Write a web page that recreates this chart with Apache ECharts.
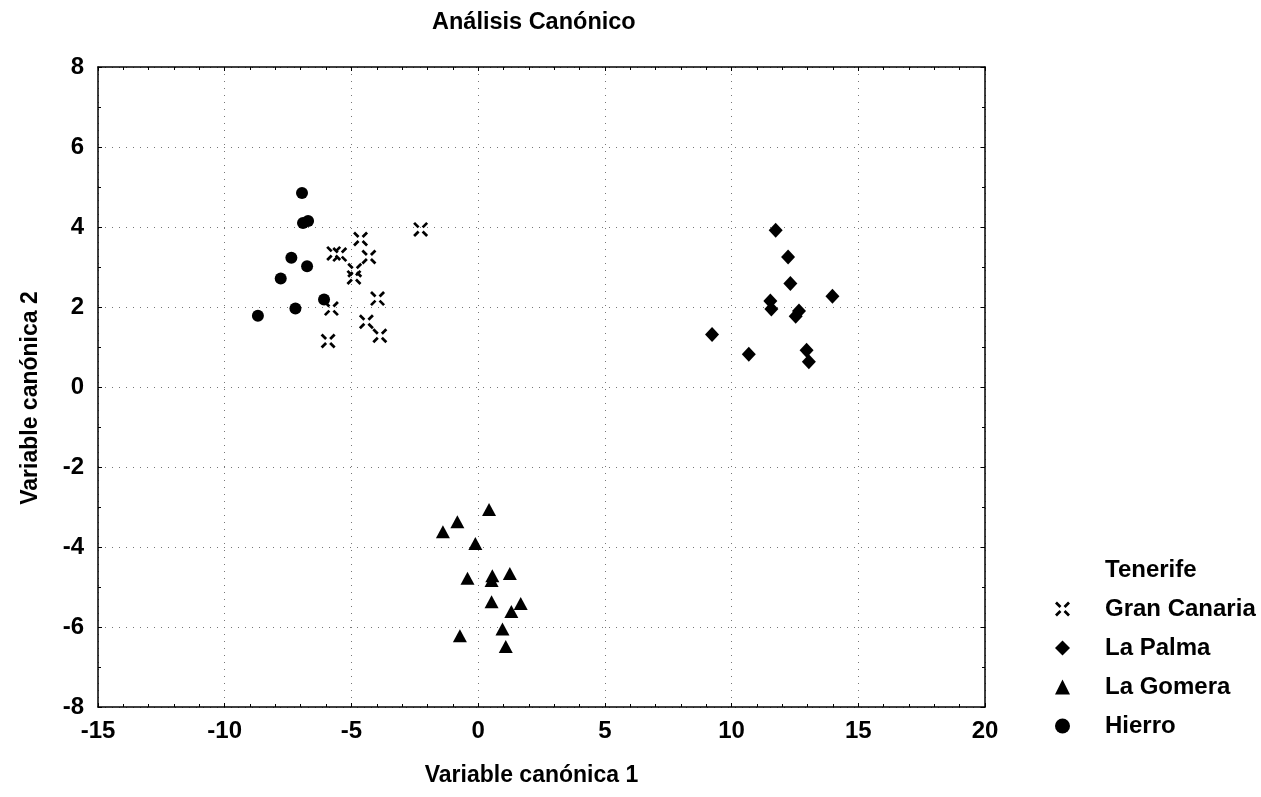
<!DOCTYPE html>
<html>
<head>
<meta charset="utf-8">
<script src="https://cdn.jsdelivr.net/npm/echarts@6/dist/echarts.min.js"></script>
<style>html,body{margin:0;padding:0;background:#fff}#c{width:1261px;height:797px}</style>
</head>
<body>
<div id="c"></div>
<script>
// Data
const seriesNames = ['Tenerife', 'Gran Canaria', 'La Palma', 'La Gomera', 'Hierro'];
const xTicks = [-15, -10, -5, 0, 5, 10, 15, 20];
const yTicks = [-8, -6, -4, -2, 0, 2, 4, 6, 8];

const tenerife = [];
const granCanaria = [
  [-2.27, 3.94], [-4.64, 3.70], [-5.70, 3.34], [-5.46, 3.31], [-4.31, 3.25],
  [-4.87, 2.92], [-4.90, 2.74], [-3.97, 2.21], [-5.79, 1.96], [-4.41, 1.63],
  [-3.88, 1.28], [-5.92, 1.15]
];
const laPalma = [
  [11.74, 3.92], [12.23, 3.25], [12.32, 2.59], [13.98, 2.27], [11.53, 2.15],
  [11.57, 1.95], [12.66, 1.90], [12.53, 1.77], [9.23, 1.31], [10.68, 0.82],
  [12.96, 0.92], [13.05, 0.63]
];
const laGomera = [
  [0.43, -3.06], [-0.82, -3.37], [-1.39, -3.62], [-0.11, -3.91], [-0.42, -4.78],
  [0.56, -4.72], [0.53, -4.84], [1.25, -4.66], [0.53, -5.37], [1.68, -5.41],
  [1.31, -5.61], [0.96, -6.05], [-0.72, -6.22], [1.09, -6.49]
];
const hierro = [
  [-6.95, 4.85], [-6.91, 4.10], [-6.71, 4.15], [-7.37, 3.23], [-6.75, 3.02],
  [-7.79, 2.71], [-6.08, 2.19], [-7.21, 1.96], [-8.69, 1.78]
];

const FONT = 'Liberation Sans';
const xSymbol = 'path://M0,1.3L1.3,0L4.3,3L3,4.3Z M8.7,0L10,1.3L7,4.3L5.7,3Z M0,8.7L3,5.7L4.3,7L1.3,10Z M10,8.7L8.7,10L5.7,7L7,5.7Z';
const solid = {color: '#000', opacity: 1};

const chart = echarts.init(document.getElementById('c'), null, {renderer: 'canvas'});

const baseX = {
  type: 'value', min: -15, max: 20, interval: 5,
  axisLine: {show: true, onZero: false, lineStyle: {color: '#000', width: 1.5}},
  axisTick: {show: true, inside: true, length: 4, lineStyle: {color: '#000'}},
  minorTick: {show: true, splitNumber: 5, length: 3, lineStyle: {color: '#000'}},
};
const baseY = {
  type: 'value', min: -8, max: 8, interval: 2,
  axisLine: {show: true, onZero: false, lineStyle: {color: '#000', width: 1.5}},
  axisTick: {show: true, inside: true, length: 4, lineStyle: {color: '#000'}},
  minorTick: {show: true, splitNumber: 2, length: 3, lineStyle: {color: '#000'}},
};

const option = {
  backgroundColor: '#fff',
  animation: false,
  title: {
    text: 'Análisis Canónico', left: 432, top: 11, padding: 0,
    textStyle: {fontFamily: FONT, fontWeight: 'bold', fontSize: 23.5, color: '#000'}
  },
  grid: {left: 98, top: 67, right: 276, bottom: 90, containLabel: false},
  legend: {
    orient: 'vertical', left: 1050, top: 553,
    itemWidth: 15, itemHeight: 15, itemGap: 15,
    textStyle: {fontFamily: FONT, fontWeight: 'bold', fontSize: 24, lineHeight: 23, color: '#000', padding: [0, 0, 0, 30]},
    data: [
      {name: 'Tenerife', itemStyle: {opacity: 0}},
      {name: 'Gran Canaria', icon: xSymbol},
      {name: 'La Palma', icon: 'diamond'},
      {name: 'La Gomera', icon: 'triangle'},
      {name: 'Hierro', icon: 'circle'}
    ]
  },
  xAxis: [
    Object.assign({}, baseX, {
      position: 'bottom',
      name: 'Variable canónica 1', nameLocation: 'middle', nameGap: 57,
      nameTextStyle: {fontFamily: FONT, fontWeight: 'bold', fontSize: 23, color: '#000', padding: [0, 20, 0, 0]},
      axisLabel: {
        margin: 12, fontFamily: FONT, fontWeight: 'bold', fontSize: 24, color: '#000',
        customValues: xTicks
      },
      splitLine: {show: true, lineStyle: {color: '#777', type: [1, 6], width: 1}}
    }),
    Object.assign({}, baseX, {
      position: 'top', axisLabel: {show: false}, splitLine: {show: false}
    })
  ],
  yAxis: [
    Object.assign({}, baseY, {
      position: 'left',
      name: 'Variable canónica 2', nameLocation: 'middle', nameGap: 56,
      nameTextStyle: {fontFamily: FONT, fontWeight: 'bold', fontSize: 23, color: '#000', padding: [0, 22, 0, 0]},
      axisLabel: {margin: 14, fontFamily: FONT, fontWeight: 'bold', fontSize: 24, color: '#000', customValues: yTicks},
      splitLine: {show: true, lineStyle: {color: '#777', type: [1, 6], width: 1}}
    }),
    Object.assign({}, baseY, {
      position: 'right', axisLabel: {show: false}, splitLine: {show: false}
    })
  ],
  series: [
    {name: seriesNames[0], type: 'scatter', data: tenerife, symbol: 'circle', symbolSize: 12, itemStyle: solid},
    {name: seriesNames[1], type: 'scatter', data: granCanaria, symbol: xSymbol, symbolSize: 15, itemStyle: solid},
    {name: seriesNames[2], type: 'scatter', data: laPalma, symbol: 'diamond', symbolSize: [14, 15], itemStyle: solid},
    {name: seriesNames[3], type: 'scatter', data: laGomera, symbol: 'triangle', symbolSize: [14, 13], itemStyle: solid},
    {name: seriesNames[4], type: 'scatter', data: hierro, symbol: 'circle', symbolSize: 12, itemStyle: solid}
  ]
};
chart.setOption(option);
</script>
</body>
</html>
